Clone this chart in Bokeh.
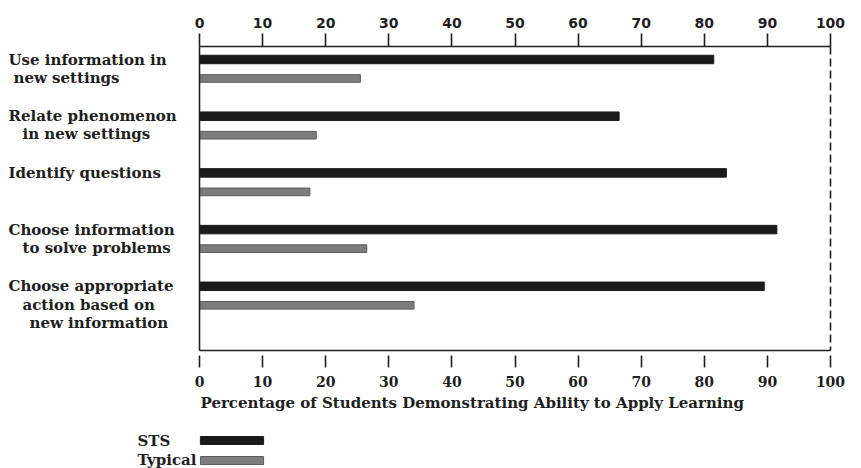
from bokeh.plotting import figure
from bokeh.models import (ColumnDataSource, Range1d, LinearAxis, FixedTicker,
                          Legend, LegendItem)
from bokeh.transform import dodge
from bokeh.core.properties import value
from bokeh.embed import file_html
from bokeh.resources import INLINE

# ---------------- data ----------------
categories = [
    "Use information in\nnew settings",
    "Relate phenomenon\nin new settings",
    "Identify questions",
    "Choose information\nto solve problems",
    "Choose appropriate\naction based on\nnew information",
]
sts = [81.5, 66.5, 83.5, 91.5, 89.5]
typical = [25.5, 18.5, 17.5, 26.5, 34.0]
series_names = ["STS", "Typical"]
x_ticks = [0, 10, 20, 30, 40, 50, 60, 70, 80, 90, 100]
x_title = "Percentage of Students Demonstrating Ability to Apply Learning"

# ---------------- layout (pixels) ----------------
W, H = 861, 468
X0_PX, X100_PX = 199, 830          # where 0 and 100 sit
GROUP0_PX, GROUP_PX = 68.5, 56.7   # first group centre, group pitch
TOP_AX_PX, BOT_AX_PX = 46, 350
PX_PER_X = (X100_PX - X0_PX) / 100.0
LINE_INDENTS = [[0, 5], [0, 14], [0], [0, 14], [0, 14, 21]]

def x_at(px):
    return (px - X0_PX) / PX_PER_X

def y_at(py):
    return (py - GROUP0_PX) / GROUP_PX

FONT = "DejaVu Serif"
INK = "#1e1e1e"
STS_COLOR = "#1a1a1a"
TYP_COLOR = "#7c7c7c"
BAR_OFF = 0.1675
LINE_GAP = 0.322

src = ColumnDataSource(dict(idx=list(range(len(categories))), sts=sts, typical=typical))

p = figure(width=W, height=H, output_backend="svg", toolbar_location=None,
           x_range=Range1d(x_at(0), x_at(W)), y_range=Range1d(y_at(H), y_at(0)),
           x_axis_location=None, y_axis_location=None,
           min_border=0, min_border_left=0, min_border_right=0,
           min_border_top=0, min_border_bottom=0)
p.title.visible = False
p.grid.visible = False
p.outline_line_color = None
p.background_fill_color = "white"
p.border_fill_color = "white"

r_sts = p.hbar(y=dodge("idx", -BAR_OFF), left=0, right="sts", height=0.15,
               source=src, fill_color=STS_COLOR, line_color=STS_COLOR)
r_typ = p.hbar(y=dodge("idx", BAR_OFF), left=0, right="typical", height=0.135,
               source=src, fill_color=TYP_COLOR, line_color="#5c5c5c")

y_top, y_bot = y_at(TOP_AX_PX), y_at(BOT_AX_PX)

def style_axis(ax, tin, tout, standoff, font):
    ax.ticker = FixedTicker(ticks=x_ticks)
    ax.bounds = (0, 100)
    ax.minor_tick_line_color = None
    ax.major_tick_in = tin
    ax.major_tick_out = tout
    ax.major_label_standoff = standoff
    ax.axis_line_color = INK
    ax.axis_line_width = 1.6
    ax.major_tick_line_color = INK
    ax.major_tick_line_width = 1.6
    ax.major_label_text_font = font
    ax.major_label_text_font_style = "bold"
    ax.major_label_text_font_size = "14px"
    ax.major_label_text_color = INK

top = LinearAxis(fixed_location=y_top)
style_axis(top, 0, 13, 6, "DejaVu Sans")
p.add_layout(top, "above")

bottom = LinearAxis(fixed_location=y_bot)
style_axis(bottom, -5, 17, 8, FONT)
p.add_layout(bottom, "below")

# left spine and dashed right edge
left = LinearAxis(fixed_location=0, bounds=(y_top, y_bot), ticker=FixedTicker(ticks=[]),
                  axis_line_color=INK, axis_line_width=1.6,
                  major_tick_line_color=None, minor_tick_line_color=None)
p.add_layout(left, "left")
right = LinearAxis(fixed_location=100, bounds=(y_top, y_bot), ticker=FixedTicker(ticks=[]),
                   axis_line_color=INK, axis_line_width=1.6, axis_line_dash="8 4",
                   major_tick_line_color=None, minor_tick_line_color=None)
p.add_layout(right, "right")

# category labels (text glyphs)
lx, ly, lt = [], [], []
for i, cat in enumerate(categories):
    for k, line in enumerate(cat.split("\n")):
        lx.append(x_at(8 + LINE_INDENTS[i][k]))
        ly.append(i - BAR_OFF + k * LINE_GAP)
        lt.append(line)

text_style = dict(text_font=value(FONT), text_font_style="bold", text_font_size="15px",
                  text_baseline="middle", text_align="left", text_color=INK)
p.text(x=lx, y=ly, text=lt, **text_style)

# axis title
p.text(x=[x_at(200)], y=[y_at(402)], text=[x_title], **text_style)

# legend: swatches via Legend, names drawn to their left
legend = Legend(items=[LegendItem(label="", renderers=[r_sts]),
                       LegendItem(label="", renderers=[r_typ])],
                location=(192, 3), orientation="vertical",
                glyph_width=79, glyph_height=10, label_width=0, label_height=0,
                label_standoff=0, padding=0, margin=0, spacing=10,
                border_line_color=None, background_fill_alpha=0,
                label_text_font_size="1px")
p.add_layout(legend, "center")
p.text(x=[x_at(137)] * 2, y=[y_at(440), y_at(459)], text=series_names, **text_style)

open("out.html", "w").write(file_html(p, INLINE))
